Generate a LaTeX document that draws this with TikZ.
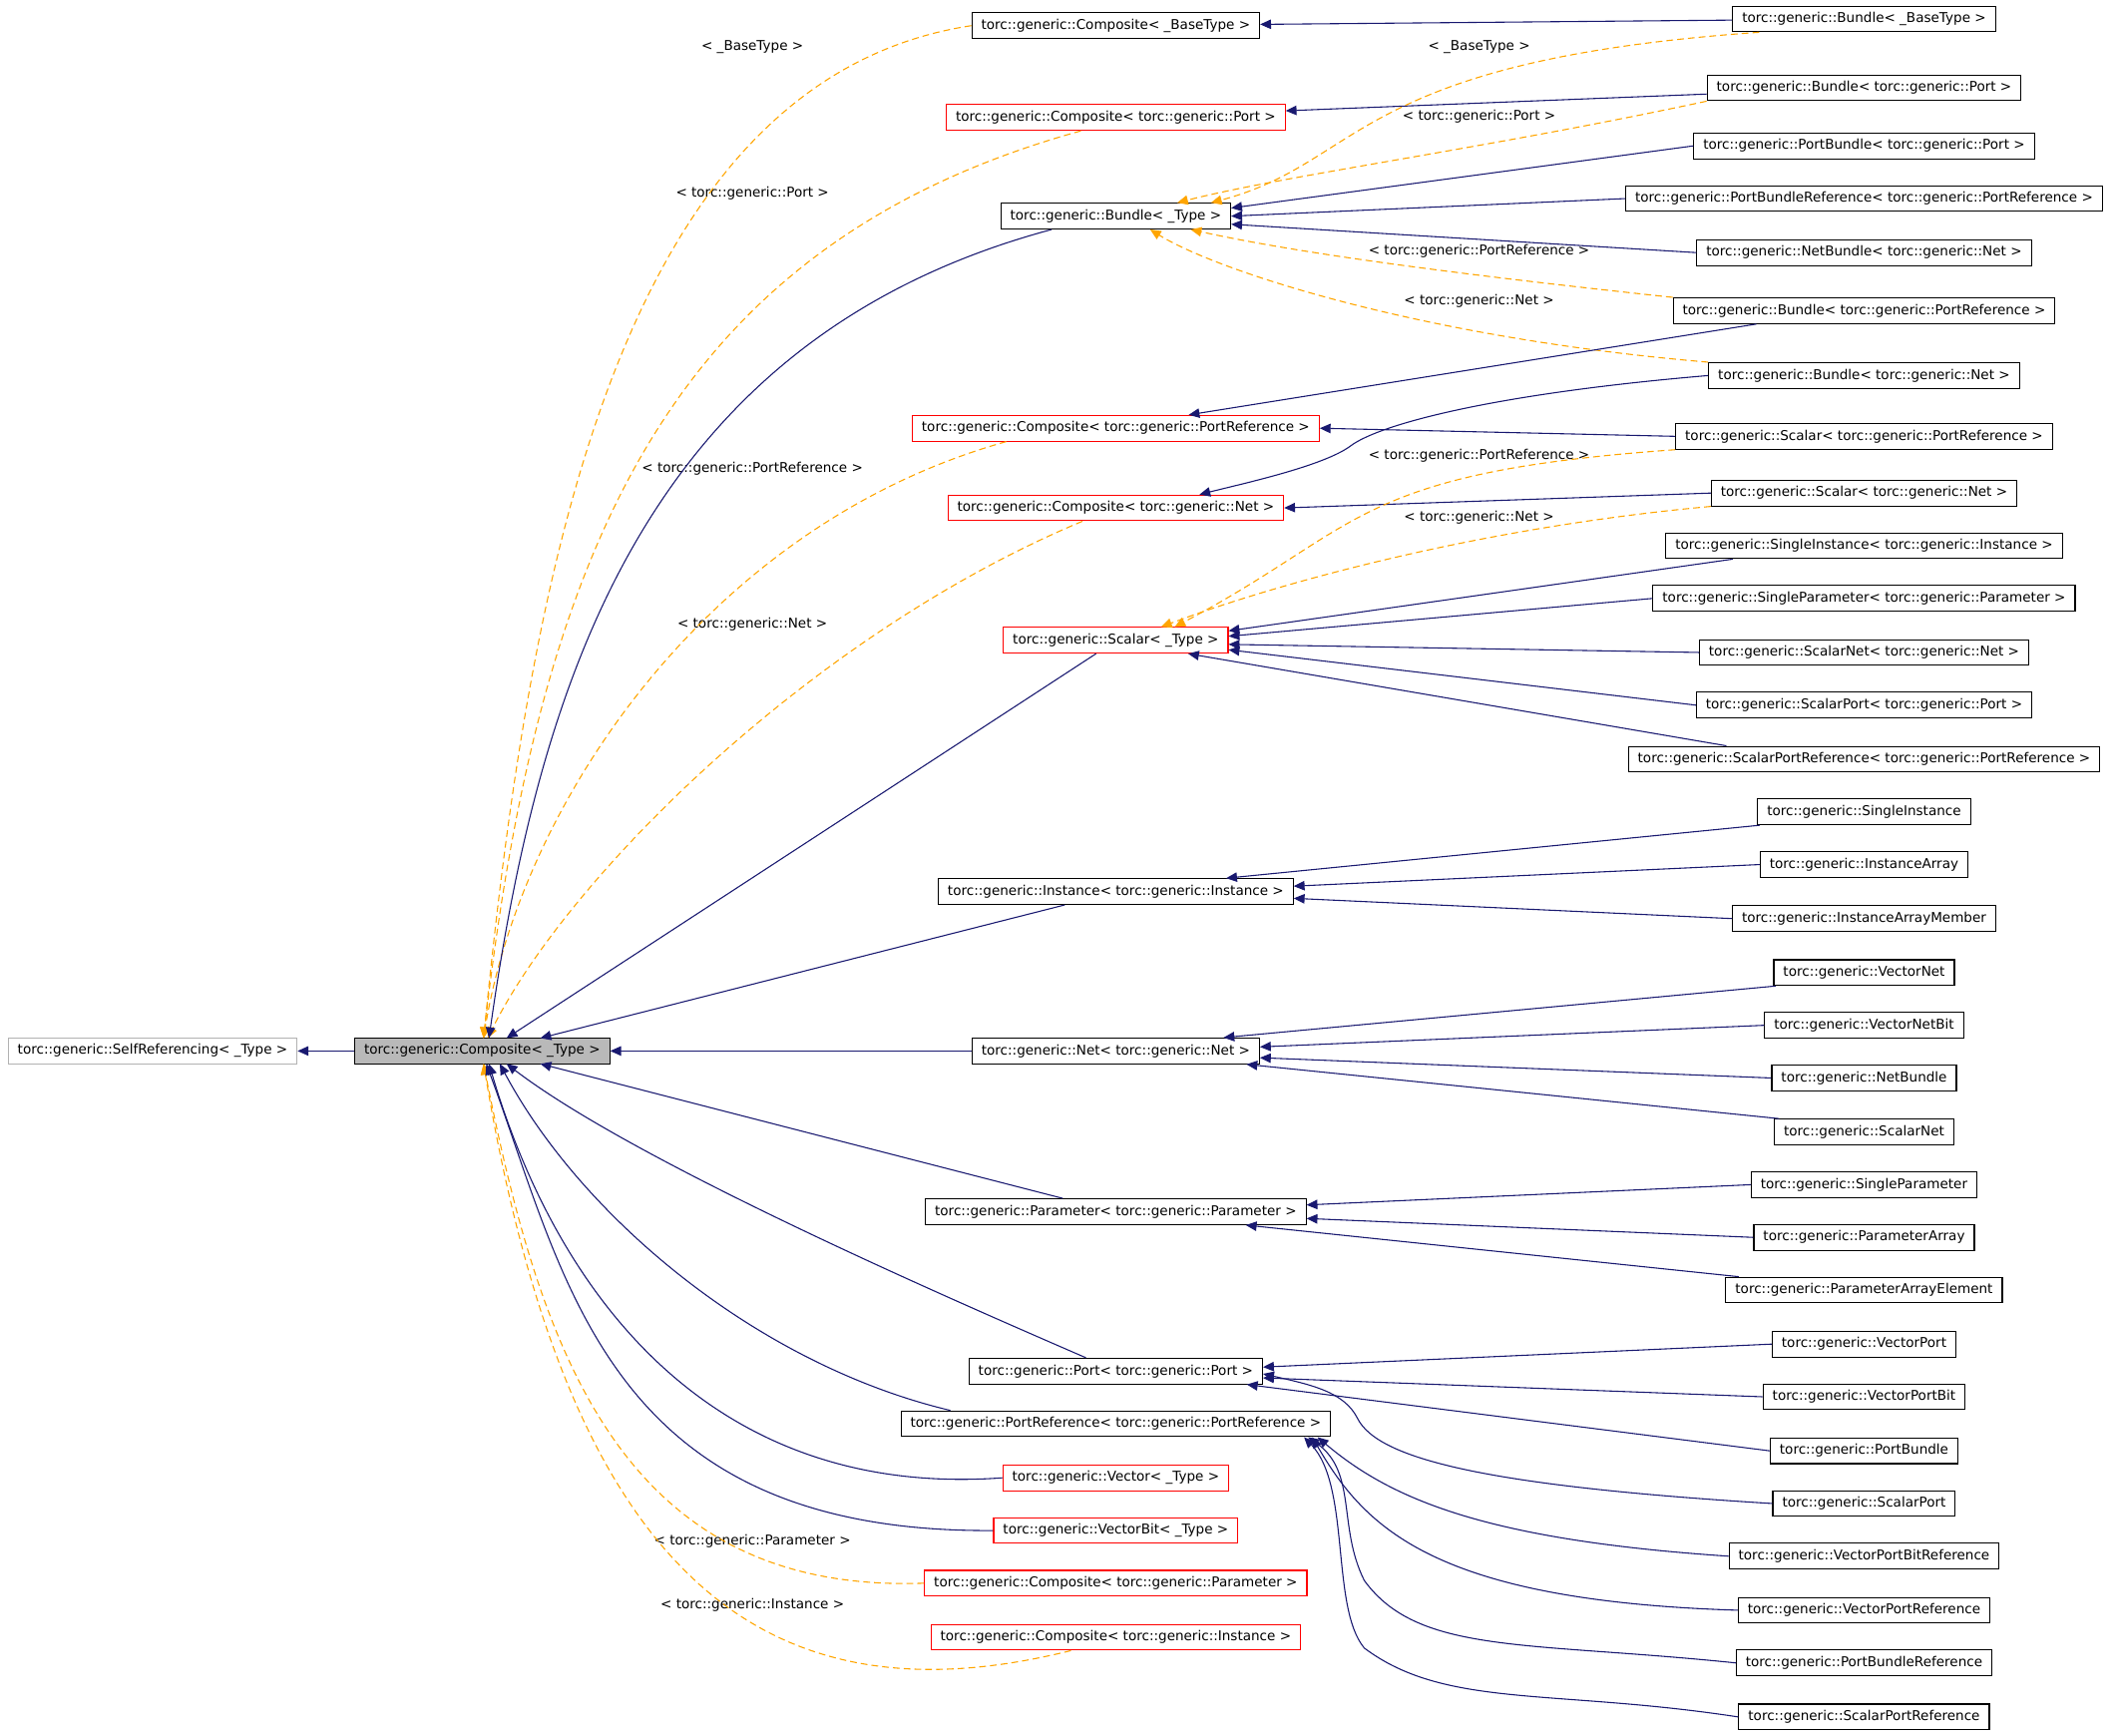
\documentclass[tikz,border=0pt]{standalone}
\usepackage{fontspec}
\setmainfont{DejaVu Sans}
\usetikzlibrary{arrows.meta,calc}
\definecolor{navy}{HTML}{191970}
\definecolor{tor}{HTML}{FFA500}
\begin{document}
\begin{tikzpicture}[x=1pt,y=-1pt,
  box/.style={draw=black,fill=white,minimum height=19pt,inner xsep=7pt,inner ysep=0pt,font=\fontsize{10}{11}\selectfont,line width=0.8pt},
  redbox/.style={box,draw=red},
  inh/.style={navy,line width=0.8pt,-{Triangle[length=8pt,width=7pt]}},
  tpl/.style={tor,line width=0.8pt,dashed,dash pattern=on 5pt off 3pt,-{Triangle[length=8pt,width=7pt]}},
  lab/.style={font=\fontsize{10}{11}\selectfont,inner sep=1pt}]
\useasboundingbox (0,0) rectangle (1568,1285);
% left
\node[box,draw=gray!60] (self) at (113,778) {torc::generic::SelfReferencing< \_Type >};
\node[box,fill=gray!55] (comp) at (357,778) {torc::generic::Composite< \_Type >};
% middle
\node[box] (cbt) at (826,19) {torc::generic::Composite< \_BaseType >};
\node[redbox] (cport) at (826,87) {torc::generic::Composite< torc::generic::Port >};
\node[box] (bt) at (826,160) {torc::generic::Bundle< \_Type >};
\node[redbox] (cpr) at (826,317) {torc::generic::Composite< torc::generic::PortReference >};
\node[redbox] (cnet) at (826,376) {torc::generic::Composite< torc::generic::Net >};
\node[redbox] (st) at (826,474) {torc::generic::Scalar< \_Type >};
\node[box] (inst) at (826,660) {torc::generic::Instance< torc::generic::Instance >};
\node[box] (net) at (826,778) {torc::generic::Net< torc::generic::Net >};
\node[box] (par) at (826,897) {torc::generic::Parameter< torc::generic::Parameter >};
\node[box] (port) at (826,1015) {torc::generic::Port< torc::generic::Port >};
\node[box] (pr) at (826,1054) {torc::generic::PortReference< torc::generic::PortReference >};
\node[redbox] (vec) at (826,1094) {torc::generic::Vector< \_Type >};
\node[redbox] (vb) at (826,1133) {torc::generic::VectorBit< \_Type >};
\node[redbox] (cpar) at (826,1172) {torc::generic::Composite< torc::generic::Parameter >};
\node[redbox] (cinst) at (826,1212) {torc::generic::Composite< torc::generic::Instance >};
% right
\node[box] (bbt) at (1380,14) {torc::generic::Bundle< \_BaseType >};
\node[box] (bport) at (1380,65) {torc::generic::Bundle< torc::generic::Port >};
\node[box] (pbport) at (1380,108) {torc::generic::PortBundle< torc::generic::Port >};
\node[box] (pbr) at (1380,147) {torc::generic::PortBundleReference< torc::generic::PortReference >};
\node[box] (nbnet) at (1380,187) {torc::generic::NetBundle< torc::generic::Net >};
\node[box] (bpr) at (1380,230) {torc::generic::Bundle< torc::generic::PortReference >};
\node[box] (bnet) at (1380,278) {torc::generic::Bundle< torc::generic::Net >};
\node[box] (spr) at (1380,323) {torc::generic::Scalar< torc::generic::PortReference >};
\node[box] (snet) at (1380,365) {torc::generic::Scalar< torc::generic::Net >};
\node[box] (sii) at (1380,404) {torc::generic::SingleInstance< torc::generic::Instance >};
\node[box] (spp) at (1380,443) {torc::generic::SingleParameter< torc::generic::Parameter >};
\node[box] (snn) at (1380,483) {torc::generic::ScalarNet< torc::generic::Net >};
\node[box] (spt) at (1380,522) {torc::generic::ScalarPort< torc::generic::Port >};
\node[box] (sprr) at (1380,562) {torc::generic::ScalarPortReference< torc::generic::PortReference >};
\node[box] (si) at (1380,601) {torc::generic::SingleInstance};
\node[box] (ia) at (1380,640) {torc::generic::InstanceArray};
\node[box] (iam) at (1380,680) {torc::generic::InstanceArrayMember};
\node[box] (vn) at (1380,720) {torc::generic::VectorNet};
\node[box] (vnb) at (1380,759) {torc::generic::VectorNetBit};
\node[box] (nb) at (1380,798) {torc::generic::NetBundle};
\node[box] (sn) at (1380,838) {torc::generic::ScalarNet};
\node[box] (sp) at (1380,877) {torc::generic::SingleParameter};
\node[box] (pa) at (1380,916) {torc::generic::ParameterArray};
\node[box] (pae) at (1380,955) {torc::generic::ParameterArrayElement};
\node[box] (vp) at (1380,995) {torc::generic::VectorPort};
\node[box] (vpb) at (1380,1034) {torc::generic::VectorPortBit};
\node[box] (pb) at (1380,1074) {torc::generic::PortBundle};
\node[box] (sport) at (1380,1113) {torc::generic::ScalarPort};
\node[box] (vpbr) at (1380,1152) {torc::generic::VectorPortBitReference};
\node[box] (vpr) at (1380,1192) {torc::generic::VectorPortReference};
\node[box] (pbref) at (1380,1231) {torc::generic::PortBundleReference};
\node[box] (sprf) at (1380,1271) {torc::generic::ScalarPortReference};
% labels
\node[lab] (l1) at (557,35) {< \_BaseType >};
\node[lab] (l2) at (557,143) {< torc::generic::Port >};
\node[lab] (l3) at (557,347) {< torc::generic::PortReference >};
\node[lab] (l4) at (557,462) {< torc::generic::Net >};
\node[lab] (l5) at (557,1141) {< torc::generic::Parameter >};
\node[lab] (l6) at (557,1188) {< torc::generic::Instance >};
\node[lab] (r1) at (1095,35) {< \_BaseType >};
\node[lab] (r2) at (1095,86) {< torc::generic::Port >};
\node[lab] (r3) at (1095,186) {< torc::generic::PortReference >};
\node[lab] (r4) at (1095,223) {< torc::generic::Net >};
\node[lab] (r5) at (1095,337) {< torc::generic::PortReference >};
\node[lab] (r6) at (1095,383) {< torc::generic::Net >};
% coordinates on comp
\coordinate (ct) at (358,768.5);
\coordinate (cb) at (358,787.5);
% edges to SelfReferencing
\draw[inh] (comp) -- (self);
% dashed to comp
\draw[tpl] (cbt.west) .. controls (450,60) and (390,450) .. (ct);
\draw[tpl] ($(cport.south west)+(100,0)$) .. controls (500,180) and (400,400) .. (ct);
\draw[tpl] ($(cpr.south west)+(70,0)$) .. controls (520,390) and (385,600) .. (ct);
\draw[tpl] ($(cnet.south west)+(100,0)$) .. controls (600,470) and (420,650) .. ($(ct)+(3,0)$);
\draw[tpl] (cpar.west) .. controls (460,1180) and (400,1000) .. (cb);
\draw[tpl] ($(cinst.south west)+(104,0)$) .. controls (560,1280) and (420,1160) .. (cb);
% solid to comp
\draw[inh] ($(bt.south west)+(38,0)$) .. controls (480,250) and (400,500) .. ($(ct)+(4,0)$);
\draw[inh] ($(st.south west)+(69,0)$) -- ($(ct)+(17,0)$);
\draw[inh] ($(inst.south west)+(94,0)$) -- ($(ct)+(42,0)$);
\draw[inh] (net) -- (comp);
\draw[inh] ($(par.north west)+(102,0)$) -- ($(cb)+(42,0)$);
\draw[inh] ($(port.north west)+(87,0)$) .. controls (700,960) and (470,860) .. ($(cb)+(17,0)$);
\draw[inh] ($(pr.north west)+(37,0)$) .. controls (560,1010) and (430,900) .. ($(cb)+(12,0)$);
\draw[inh] (vec.west) .. controls (520,1110) and (410,950) .. ($(cb)+(4,0)$);
\draw[inh] (vb.west) .. controls (450,1135) and (420,950) .. ($(cb)+(2,0)$);
% top right
\draw[inh] (bbt) -- (cbt);
\draw[inh] (bport) -- (cport);
\draw[tpl] ($(bbt.south west)+(20,0)$) .. controls (1000,45) and (1010,120) .. ($(bt.north east)+(-15,0)$);
\draw[tpl] (bport.south west) .. controls (1100,110) and (950,130) .. ($(bt.north east)+(-40,0)$);
\draw[tpl] (bpr.north west) .. controls (1050,200) and (950,185) .. ($(bt.south east)+(-30,0)$);
\draw[tpl] (bnet.north west) .. controls (1050,250) and (900,200) .. ($(bt.south east)+(-60,0)$);
\draw[inh] (pbport.west) -- ($(bt.east)+(0,-6)$);
\draw[inh] (pbr.west) -- (bt.east);
\draw[inh] (nbnet.west) -- ($(bt.east)+(0,6)$);
\draw[inh] ($(bpr.south west)+(62,0)$) -- ($(cpr.north)+(54,0)$);
\draw[inh] (spr.west) -- (cpr.east);
\draw[inh] (bnet.west) .. controls (1100,292) and (1020,315) .. (1000,330) .. controls (980,345) and (920,358) .. ($(cnet.north)+(62,0)$);
\draw[inh] (snet.west) -- (cnet.east);
\draw[tpl] (spr.south west) .. controls (1000,350) and (1010,390) .. ($(st.north east)+(-40,0)$);
\draw[tpl] (snet.south west) .. controls (1100,390) and (950,430) .. ($(st.north east)+(-50,0)$);
\draw[inh] ($(sii.south west)+(50,0)$) -- ($(st.east)+(0,-7)$);
\draw[inh] (spp.west) -- ($(st.east)+(0,-3)$);
\draw[inh] (snn.west) -- ($(st.east)+(0,3)$);
\draw[inh] (spt.west) -- ($(st.east)+(0,7)$);
\draw[inh] ($(sprr.north west)+(73,0)$) -- ($(st.south east)+(-30,0)$);
% instance
\draw[inh] ($(si.south west)+(2,0)$) -- ($(inst.north east)+(-50,0)$);
\draw[inh] (ia.west) -- ($(inst.east)+(0,-4)$);
\draw[inh] (iam.west) -- ($(inst.east)+(0,5)$);
% net
\draw[inh] ($(vn.south west)+(2,0)$) -- ($(net.north east)+(-27,0)$);
\draw[inh] (vnb.west) -- ($(net.east)+(0,-3)$);
\draw[inh] (nb.west) -- ($(net.east)+(0,5)$);
\draw[inh] ($(sn.north west)+(4,0)$) -- ($(net.south east)+(-10,0)$);
% parameter
\draw[inh] (sp.west) -- ($(par.east)+(0,-5)$);
\draw[inh] (pa.west) -- ($(par.east)+(0,5)$);
\draw[inh] ($(pae.north west)+(10,0)$) -- ($(par.south east)+(-45,0)$);
% port
\draw[inh] (vp.west) -- ($(port.east)+(0,-3)$);
\draw[inh] (vpb.west) -- ($(port.east)+(0,5)$);
\draw[inh] (pb.west) -- ($(port.south east)+(-12,0)$);
\draw[inh] (sport.west) .. controls (1100,1100) and (1020,1080) .. (1005,1050) .. controls (995,1030) and (970,1025) .. ($(port.east)+(0,2)$);
% portreference
\draw[inh] (vpbr.west) .. controls (1100,1140) and (1030,1110) .. ($(pr.south east)+(-10,0)$);
\draw[inh] (vpr.west) .. controls (1060,1185) and (1010,1130) .. ($(pr.south east)+(-14,0)$);
\draw[inh] (pbref.west) .. controls (1130,1215) and (1050,1225) .. (1010,1170) .. controls (990,1130) and (1005,1090) .. ($(pr.south east)+(-17,0)$);
\draw[inh] (sprf.west) .. controls (1150,1250) and (1070,1265) .. (1010,1220) .. controls (985,1190) and (1000,1100) .. ($(pr.south east)+(-20,0)$);
\end{tikzpicture}
\end{document}
